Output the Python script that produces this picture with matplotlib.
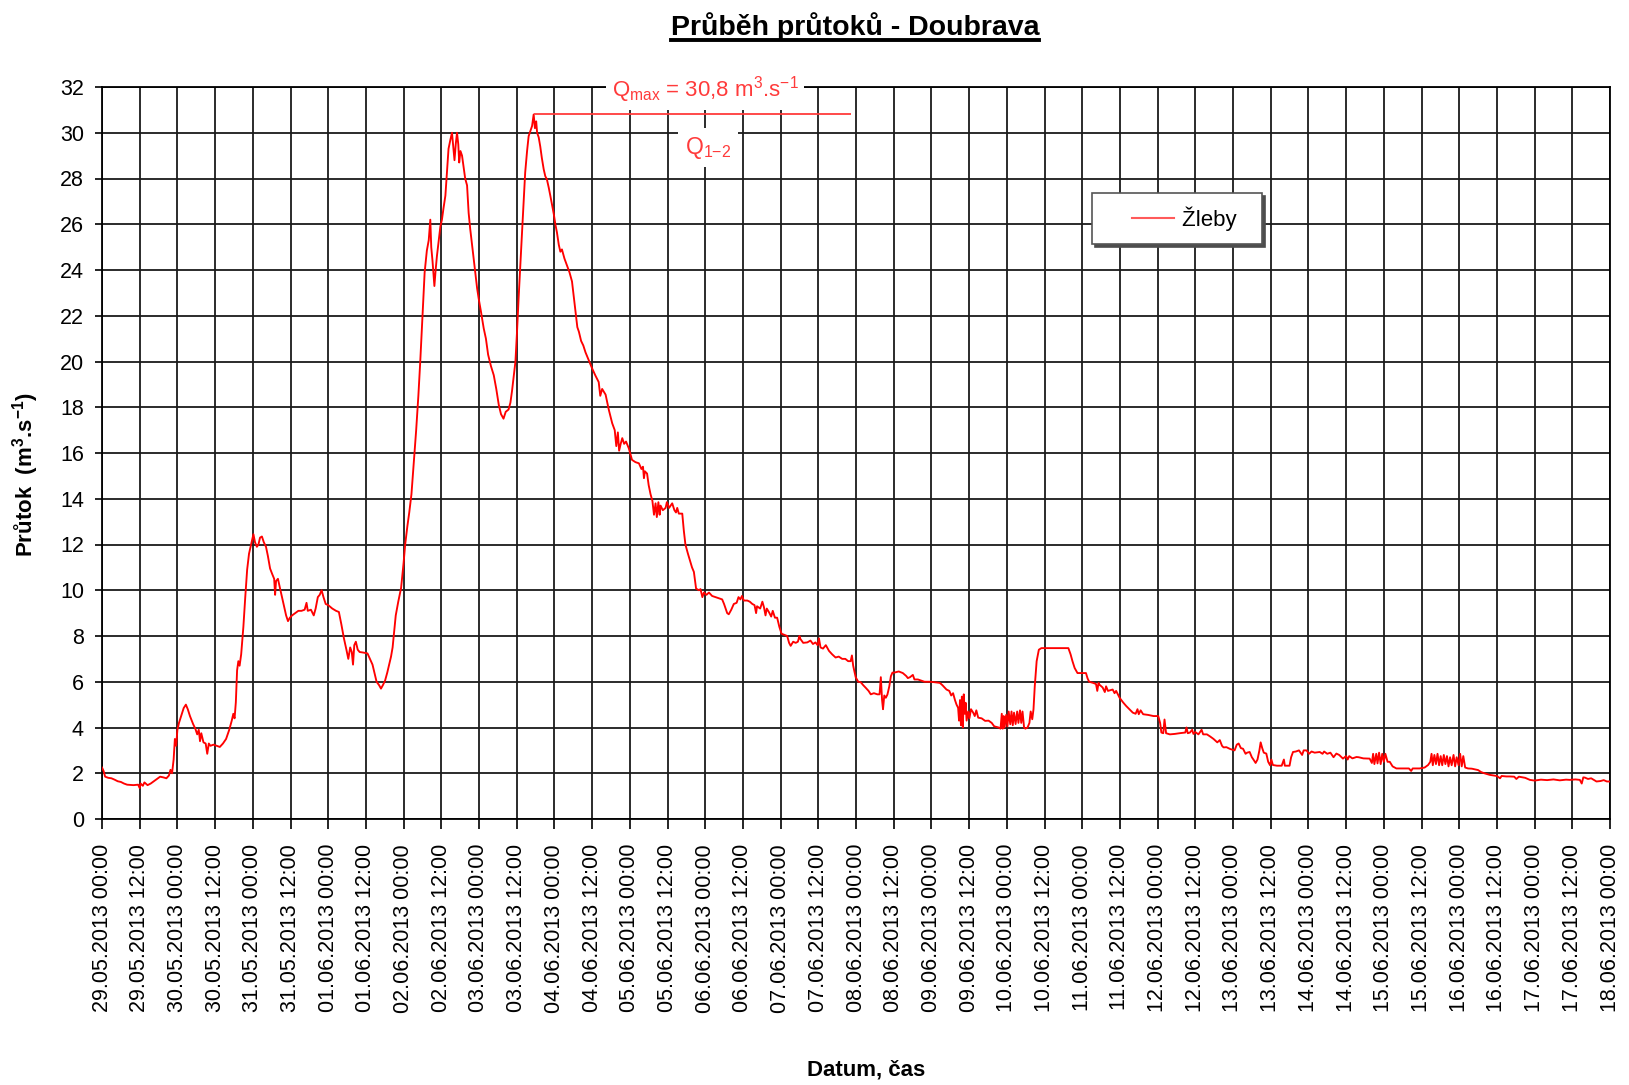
import numpy as np
import matplotlib
matplotlib.use("Agg")
import matplotlib.pyplot as plt
import matplotlib.dates as mdates
from matplotlib.lines import Line2D
from matplotlib.legend_handler import HandlerLine2D

plt.rcParams['font.family'] = ['Liberation Sans', 'DejaVu Sans']
plt.rcParams['mathtext.fontset'] = 'custom'
plt.rcParams['mathtext.rm'] = 'Liberation Sans'
plt.rcParams['mathtext.it'] = 'Liberation Sans:italic'
plt.rcParams['mathtext.bf'] = 'Liberation Sans:bold'

# ---------------- data (hours since 29.05.2013 00:00, flow m3/s) ----------------
start_time = np.datetime64('2013-05-29T00:00')
end_time = np.datetime64('2013-06-18T00:00')

hours = [
    0, 0.5, 1, 2, 3, 4, 5, 6, 7, 8,
    10, 11.5, 12, 12.3, 13, 13.5, 14.5, 15.5, 16.5, 17.5,
    18.5, 19.5, 20.5, 21.3, 21.8, 22.3, 22.8, 23.2, 23.6, 24,
    24.5, 25.3, 26, 26.7, 27.3, 28, 29, 29.7, 30.3, 30.8,
    31.2, 31.6, 32.3, 33, 33.5, 34, 34.5, 35.5, 36.5, 37.5,
    38.5, 39.5, 40.5, 41.3, 41.8, 42.2, 42.6, 43, 43.4, 43.8,
    44.3, 45, 45.6, 46.2, 46.8, 47.3, 47.8, 48.2, 48.7, 49.3,
    49.8, 50.3, 50.9, 51.5, 52.2, 52.8, 53.5, 54.2, 54.8, 55.1,
    55.4, 56, 56.8, 57.8, 58.6, 59.2, 59.8, 60.5, 61.5, 62.5,
    63.5, 64.5, 65.1, 65.5, 66.5, 67.4, 68, 68.7, 69.3, 69.9,
    70.5, 71.2, 72, 73.3, 74.5, 75.4, 76.2, 77, 77.8, 78.4,
    79, 79.5, 79.9, 80.3, 80.8, 81.4, 82, 83, 84.5, 85.3,
    86.1, 86.8, 87.4, 88.2, 88.8, 89.4, 90.1, 90.8, 91.4, 92,
    92.5, 93, 93.5, 94.3, 95.2, 96, 96.5, 97.2, 97.8, 98.5,
    99.2, 100, 100.7, 101.3, 102, 102.7, 103.4, 104, 104.5, 104.8,
    105.2, 105.8, 106.2, 106.6, 107.2, 107.7, 108.2, 108.7, 109.3, 109.8,
    110.3, 110.9, 111.4, 111.8, 112.2, 112.6, 113, 113.4, 113.7, 114.1,
    114.6, 115.1, 115.6, 116.2, 116.7, 117.2, 117.8, 118.3, 118.8, 119.4,
    119.9, 120.6, 121.5, 122.2, 122.9, 123.8, 124.7, 125.5, 126.3, 127,
    127.8, 128.5, 129.4, 130, 130.5, 131, 131.6, 132.1, 132.6, 133.2,
    133.7, 134.2, 134.7, 135.3, 135.8, 136.4, 136.9, 137.4, 137.8, 138.2,
    138.5, 139, 139.5, 140, 140.6, 141.1, 141.6, 142.2, 142.7, 143.3,
    143.8, 144.3, 144.8, 145.4, 145.9, 146.4, 147.2, 148, 148.8, 149.6,
    150.2, 150.7, 151.3, 151.8, 152.5, 153.2, 153.9, 154.8, 156, 157,
    158.1, 158.6, 159.2, 160.3, 161.3, 162.4, 163.2, 163.7, 164.2, 164.6,
    165.1, 165.6, 166.2, 166.8, 167.7, 168.7, 169.8, 170.9, 171.7, 172.2,
    172.5, 172.8, 173.5, 174, 174.6, 175.2, 175.7, 176.2, 176.6, 177.1,
    177.5, 177.8, 178.5, 179.4, 179.8, 180.5, 181.5, 182.2, 182.7, 183.1,
    183.6, 184.7, 185.2, 185.7, 186.5, 187.3, 187.8, 188.4, 189.1, 190,
    190.5, 191.1, 191.6, 192.4, 193.2, 194.2, 195.3, 196.4, 197.4, 198,
    198.5, 199, 199.5, 200.3, 201.1, 202, 202.6, 203.2, 203.7, 204.3,
    205.4, 206.2, 207, 207.7, 208.2, 208.5, 209.5, 210.2, 210.7, 211.2,
    211.6, 212.3, 213, 213.5, 214.2, 214.9, 215.6, 216.3, 217.2, 218.1,
    218.7, 219.2, 220, 220.8, 221.5, 222, 222.3, 223.2, 224.5, 225.5,
    226.3, 227.1, 227.8, 228.2, 228.7, 229.5, 230.4, 231.4, 232.4, 233.5,
    234.5, 235.6, 236.6, 237.5, 238.3, 238.7, 239.1, 239.9, 240.7, 241.5,
    242.3, 243, 244, 244.7, 245.7, 246.8, 247.5, 247.9, 248.3, 248.6,
    249, 249.5, 250, 250.6, 251.1, 251.6, 252.2, 253.6, 254.9, 256,
    256.5, 257.2, 258.1, 258.6, 259.7, 260.8, 261.8, 263.5, 265, 266.7,
    267.5, 268.8, 269.7, 270.3, 270.9, 271.5, 272, 272.5, 272.8, 273.1,
    273.4, 273.7, 274, 274.3, 274.6, 274.9, 275.2, 275.7, 276.1, 276.6,
    277.3, 277.8, 278.3, 278.9, 280, 281.1, 282.2, 283.2, 284, 285.4,
    286, 286.4, 286.7, 287, 287.3, 287.8, 288.2, 288.6, 289.1, 289.5,
    289.9, 290.3, 290.8, 291.3, 291.7, 292.2, 292.6, 293, 293.5, 293.9,
    294.6, 295.2, 295.6, 296.1, 296.5, 296.9, 297.5, 298.2, 299, 300.3,
    303, 305.5, 307.6, 308.3, 308.9, 309.6, 310.5, 312, 313.2, 313.7,
    314.2, 315.5, 316.4, 316.8, 317.2, 317.5, 318.5, 319.2, 319.6, 320.2,
    321.7, 322.3, 322.8, 323.9, 325, 326, 327, 328.1, 329, 329.6,
    330, 330.6, 331.4, 333, 334.7, 336.2, 336.8, 337.2, 337.8, 338.2,
    338.7, 339.9, 341.5, 343, 344.8, 345.2, 345.6, 346.3, 347, 347.4,
    348, 349, 350, 350.5, 351.7, 352.8, 353.8, 355, 355.8, 356.5,
    357, 357.9, 359.1, 360.5, 361.2, 361.8, 362.5, 363.2, 364, 364.5,
    365.3, 366, 366.5, 367.2, 367.8, 368.4, 368.8, 369.3, 369.8, 370.6,
    371.2, 371.8, 372.2, 372.7, 374, 375.5, 376.2, 376.5, 378, 378.5,
    379.1, 380, 381, 382, 382.5, 383.4, 384.2, 385, 386, 387.6,
    388.5, 389, 390, 391, 392, 392.9, 393.8, 395, 396, 396.5,
    397, 398, 399.3, 400, 401.5, 403.5, 404.2, 404.6, 405, 405.6,
    406, 406.5, 407, 407.5, 408, 408.5, 409.2, 409.9, 410.8, 412,
    414, 416, 416.7, 417.2, 419.4, 421, 422.1, 422.8, 423.2, 423.6,
    424.1, 424.6, 425.1, 425.6, 426.1, 426.6, 427.1, 427.6, 428.1, 428.6,
    429.1, 429.6, 430.2, 430.7, 431.2, 431.8, 432.3, 432.8, 433.3, 433.9,
    434.8, 436, 438, 439, 440, 441.7, 443, 444, 445, 445.5,
    447, 448.1, 449.5, 450.2, 451, 453, 454.5, 456, 458, 460,
    462, 464, 466, 467.2, 469, 470.4, 471, 471.5, 472, 473,
    474, 475.7, 477, 478, 479, 480,
]

flow = [
    2.25, 2.1, 1.85, 1.8, 1.78, 1.72, 1.65, 1.62, 1.55, 1.5,
    1.48, 1.5, 1.35, 1.55, 1.45, 1.6, 1.48, 1.55, 1.65, 1.75,
    1.85, 1.82, 1.78, 1.9, 2.15, 2.0, 2.6, 3.5, 3.2, 3.9,
    4.2, 4.55, 4.85, 5.0, 4.8, 4.5, 4.15, 3.95, 3.7, 3.9,
    3.4, 3.75, 3.35, 3.3, 2.85, 3.3, 3.2, 3.25, 3.2, 3.15,
    3.3, 3.5, 3.9, 4.3, 4.6, 4.4, 5.1, 6.5, 6.9, 6.7,
    7.2, 8.4, 9.7, 10.9, 11.6, 11.9, 12.2, 12.45, 12.1, 11.9,
    12.0, 12.3, 12.35, 12.1, 11.9, 11.5, 10.95, 10.7, 10.5, 9.8,
    10.4, 10.5, 10.0, 9.4, 8.9, 8.65, 8.8, 8.9, 9.0, 9.1,
    9.1, 9.15, 9.45, 9.1, 9.15, 8.9, 9.2, 9.7, 9.8, 10.0,
    9.7, 9.4, 9.35, 9.2, 9.1, 9.05, 8.5, 7.9, 7.4, 7.0,
    7.5, 7.3, 6.75, 7.6, 7.75, 7.4, 7.3, 7.28, 7.24, 7.0,
    6.75, 6.35, 6.0, 5.85, 5.7, 5.85, 6.05, 6.4, 6.75, 7.1,
    7.5, 8.2, 8.9, 9.5, 10.1, 11.2, 12.0, 12.8, 13.4, 14.2,
    15.5, 17.0, 18.5, 20.0, 22.0, 23.9, 24.85, 25.3, 26.2, 25.0,
    24.4, 23.3, 24.0, 24.6, 25.3, 25.9, 26.2, 26.7, 27.25, 28.3,
    29.3, 29.7, 30.0, 29.4, 28.8, 29.5, 30.0, 29.5, 28.7, 29.2,
    29.0, 28.5, 28.0, 27.7, 26.5, 25.8, 25.1, 24.5, 23.9, 23.2,
    22.75, 22.2, 21.45, 21.0, 20.3, 19.8, 19.4, 18.8, 18.1, 17.7,
    17.5, 17.8, 17.9, 18.2, 18.7, 19.3, 20.0, 21.3, 22.75, 24.3,
    25.65, 27.0, 28.26, 29.2, 29.85, 30.1, 30.3, 30.8, 30.2, 30.5,
    30.0, 29.8, 29.4, 28.9, 28.4, 28.1, 27.97, 27.6, 27.25, 26.8,
    26.45, 26.0, 25.65, 25.1, 24.8, 24.9, 24.5, 24.2, 23.9, 23.5,
    22.8, 22.2, 21.5, 21.3, 20.9, 20.7, 20.4, 20.1, 19.7, 19.4,
    19.1, 18.5, 18.8, 18.55, 17.9, 17.3, 17.0, 16.3, 16.9, 16.1,
    16.4, 16.65, 16.4, 16.5, 16.2, 15.7, 15.6, 15.55, 15.3, 15.4,
    14.9, 15.2, 15.1, 14.6, 14.2, 13.9, 13.3, 13.8, 13.2, 13.85,
    13.3, 13.7, 13.5, 13.6, 13.85, 13.6, 13.8, 13.5, 13.4, 13.6,
    13.35, 13.35, 12.6, 12.0, 11.6, 11.24, 11.0, 10.8, 10.07, 10.0,
    10.05, 9.7, 9.9, 9.8, 9.9, 9.75, 9.7, 9.65, 9.6, 9.4,
    9.2, 9.0, 8.95, 9.15, 9.4, 9.45, 9.7, 9.6, 9.75, 9.55,
    9.55, 9.5, 9.4, 9.35, 9.0, 9.3, 9.2, 9.5, 9.26, 8.9,
    9.2, 9.04, 8.85, 9.1, 8.8, 8.8, 8.4, 8.1, 8.05, 8.0,
    7.7, 7.57, 7.75, 7.7, 7.75, 8.0, 7.87, 7.7, 7.72, 7.8,
    7.65, 7.72, 7.6, 7.9, 7.5, 7.45, 7.6, 7.35, 7.2, 7.06,
    7.1, 7.0, 7.0, 6.9, 6.9, 7.15, 6.7, 6.2, 6.0, 5.98,
    5.85, 5.75, 5.6, 5.45, 5.5, 5.45, 5.45, 6.2, 5.2, 4.8,
    5.4, 5.3, 5.44, 5.8, 6.24, 6.4, 6.4, 6.45, 6.38, 6.25,
    6.16, 6.2, 6.3, 6.1, 6.1, 6.05, 6.0, 6.0, 5.98, 5.95,
    5.85, 5.66, 5.6, 5.4, 5.5, 5.2, 5.0, 4.86, 4.3, 5.2,
    4.1, 5.35, 4.0, 5.45, 4.6, 5.08, 4.3, 4.7, 4.4, 4.8,
    4.65, 4.5, 4.75, 4.43, 4.4, 4.29, 4.3, 4.2, 4.05, 4.0,
    3.95, 4.6, 3.95, 4.5, 4.0, 4.55, 4.05, 4.7, 4.14, 4.7,
    4.1, 4.65, 4.15, 4.7, 4.2, 4.75, 4.2, 4.7, 4.0, 3.95,
    4.0, 4.2, 4.7, 4.36, 4.8, 5.8, 6.9, 7.4, 7.47, 7.47,
    7.47, 7.47, 7.47, 7.2, 6.9, 6.6, 6.38, 6.38, 6.38, 6.15,
    6.0, 5.95, 5.9, 5.6, 5.95, 5.87, 5.75, 5.55, 5.8, 5.6,
    5.66, 5.5, 5.6, 5.3, 5.1, 4.94, 4.8, 4.65, 4.6, 4.8,
    4.58, 4.75, 4.58, 4.55, 4.5, 4.5, 4.2, 3.78, 3.75, 4.35,
    3.75, 3.7, 3.72, 3.75, 3.78, 4.0, 3.75, 3.78, 3.9, 3.72,
    3.8, 3.7, 3.9, 3.7, 3.7, 3.6, 3.5, 3.35, 3.45, 3.2,
    3.13, 3.14, 3.06, 3.0, 3.25, 3.3, 3.1, 3.07, 2.85, 2.9,
    2.93, 2.7, 2.6, 2.45, 2.6, 3.0, 3.35, 3.1, 2.9, 2.86,
    2.5, 2.35, 2.6, 2.36, 2.33, 2.33, 2.6, 2.33, 2.33, 2.7,
    2.93, 2.95, 3.0, 2.8, 3.0, 3.0, 2.85, 2.95, 2.9, 2.93,
    2.85, 2.95, 2.85, 2.9, 2.7, 2.86, 2.8, 2.64, 2.75, 2.6,
    2.75, 2.65, 2.71, 2.7, 2.65, 2.64, 2.45, 2.85, 2.4, 2.85,
    2.43, 2.9, 2.4, 2.85, 2.5, 2.85, 2.5, 2.5, 2.3, 2.21,
    2.21, 2.21, 2.1, 2.21, 2.21, 2.25, 2.36, 2.5, 2.85, 2.35,
    2.8, 2.4, 2.85, 2.35, 2.75, 2.35, 2.8, 2.4, 2.75, 2.3,
    2.7, 2.35, 2.8, 2.3, 2.7, 2.35, 2.85, 2.3, 2.75, 2.25,
    2.21, 2.2, 2.14, 2.05, 2.0, 1.93, 1.9, 1.88, 1.78, 1.88,
    1.86, 1.86, 1.85, 1.75, 1.85, 1.8, 1.71, 1.68, 1.72, 1.7,
    1.73, 1.69, 1.72, 1.71, 1.73, 1.71, 1.55, 1.82, 1.81, 1.75,
    1.78, 1.64, 1.66, 1.7, 1.64, 1.64,
]

series_label = 'Žleby'
q_max_value = 30.8
q_max_line_end = np.datetime64('2013-06-07T22:30')
y_ticks = list(range(0, 33, 2))
title_text = 'Průběh průtoků - Doubrava'
x_label = 'Datum, čas'
y_label = r'Průtok  (m$^{\mathbf{3}}$.s$^{\mathbf{-1}}$)'
q_max_text = r'Q$_{\mathrm{max}}$ = 30,8 m$^{3}$.s$^{-1}$'
q12_text = r'Q$_{1{-}2}$'


class RightLineHandler(HandlerLine2D):
    """Legend line drawn in the right part of the handle box (leaves left gap)."""
    def get_xdata(self, legend, xdescent, ydescent, width, height, fontsize):
        xdata = [-xdescent + 0.38 * width, -xdescent + width]
        return xdata, [-xdescent + 0.69 * width]


# ---------------- figure ----------------
times = start_time + (np.round(np.array(hours) * 60).astype(int)).astype('timedelta64[m]')
flow_arr = np.array(flow)

W, H = 1629, 1085
fig = plt.figure(figsize=(W / 100, H / 100), dpi=100)
ax = fig.add_axes([102 / W, 1 - 819 / H, (1610 - 102) / W, (819 - 87) / H])

line, = ax.plot(times, flow_arr, color='#ff0000', lw=1.35, label=series_label, zorder=3)

ax.set_xlim(start_time, end_time)
ax.set_ylim(0, 32)
ax.set_yticks(y_ticks)
ax.xaxis.set_major_locator(mdates.HourLocator(byhour=[0, 12]))
ax.xaxis.set_major_formatter(mdates.DateFormatter('%d.%m.%Y %H:%M'))
ax.minorticks_off()
ax.tick_params(axis='x', which='major', direction='out', length=7, width=1.2,
               colors='black', labelsize=15.5, labelrotation=90, pad=11)
ax.tick_params(axis='y', which='major', direction='out', length=5, width=1.2,
               colors='black', labelsize=15.5, pad=8)
ax.grid(True, color='#1a1a1a', lw=1.3, zorder=0)
ax.set_axisbelow(True)
for sp in ax.spines.values():
    sp.set_color('black')
    sp.set_linewidth(1.3)

# Q max annotation
peak_idx = int(np.argmax(flow_arr))
ax.hlines(q_max_value, times[peak_idx], q_max_line_end, color='#ff3b3b', lw=1.3, zorder=4)
ax.text(np.datetime64('2013-06-06T00:00'), 31.9, q_max_text, color='#ff3b3b', fontsize=16,
        ha='center', va='center', clip_on=False, zorder=5,
        bbox=dict(boxstyle='square,pad=0.25', facecolor='white', edgecolor='none'))
ax.text(np.datetime64('2013-06-06T01:00'), 29.35, q12_text, color='#ff3b3b', fontsize=16.5,
        ha='center', va='center', clip_on=False, zorder=5,
        bbox=dict(boxstyle='square,pad=0.3', facecolor='white', edgecolor='none'))

# legend
leg = ax.legend(handles=[line], labels=[series_label + '  '],
                handler_map={line: RightLineHandler()},
                loc='upper left', bbox_to_anchor=((1092 - 102) / 1508, (819 - 193) / 732),
                borderaxespad=0, fancybox=False, frameon=True, fontsize=16,
                handlelength=3.1, handletextpad=0.35, borderpad=0.6,
                shadow={'color': '0.3', 'alpha': 1.0})
leg.get_frame().set_edgecolor('#555555')
leg.get_frame().set_linewidth(1.2)
leg.get_frame().set_alpha(1)
for ln in leg.get_lines():
    ln.set_color('#ff5a5a')
    ln.set_linewidth(1.5)

# texts
t = fig.text(855 / W, 1 - 27 / H, title_text, fontsize=20.5, fontweight='bold',
             ha='center', va='center')
fig.text(866 / W, 1 - 1070 / H, x_label, fontsize=16, fontweight='bold',
         ha='center', va='center')
fig.text(26 / W, 1 - 475 / H, y_label, fontsize=16, fontweight='bold',
         rotation=90, ha='center', va='center')

# underline for the title
fig.canvas.draw()
bb = t.get_window_extent(renderer=fig.canvas.get_renderer())
uy = 1 - 40 / H
fig.add_artist(Line2D([bb.x0 / W, bb.x1 / W], [uy, uy], transform=fig.transFigure,
                      color='black', lw=2.8))

fig.savefig('out.png', dpi=100)
